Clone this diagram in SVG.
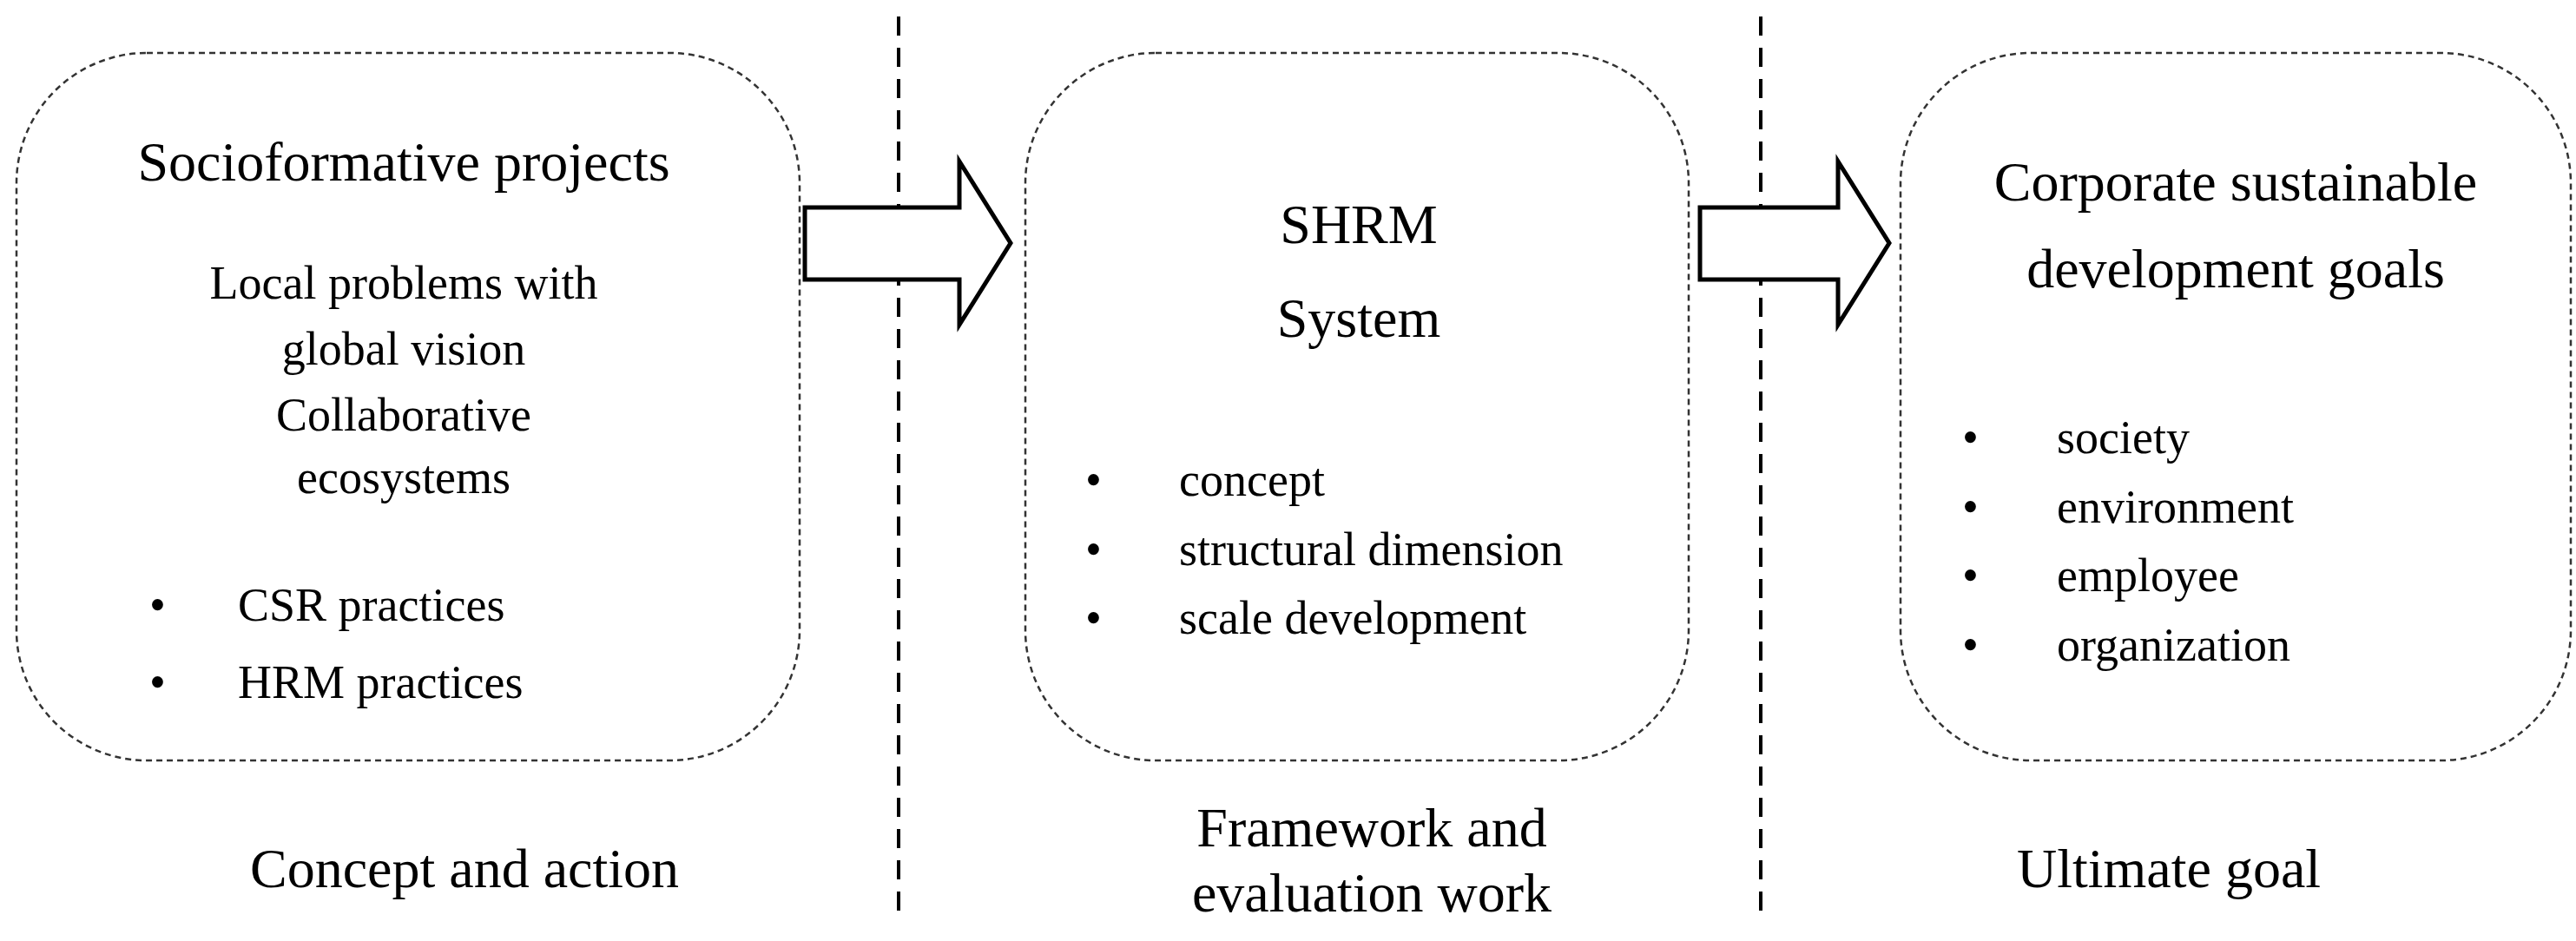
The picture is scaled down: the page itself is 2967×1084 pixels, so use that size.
<svg xmlns="http://www.w3.org/2000/svg" width="2967" height="1084" viewBox="0 0 2967 1084">
<style>
text{font-family:"Liberation Serif","Times New Roman",serif;fill:#000}
.box{fill:none;stroke:#333;stroke-width:2.5;stroke-dasharray:7 5}
.sep{stroke:#000;stroke-width:4;stroke-dasharray:22 14}
.arr{fill:#fff;stroke:#000;stroke-width:5}
.t{font-size:64px}
.m{font-size:54px}
.b{font-size:54px}
</style>
<rect width="2967" height="1084" fill="#fff"/>
<g id="separators">
<line class="sep" x1="1035" y1="19" x2="1035" y2="1055"/>
<line class="sep" x1="2028" y1="19" x2="2028" y2="1055"/>
</g>
<g id="connectors">
<path class="arr" d="M927 239 H1105 V186 L1164 280 L1105 374 V322 H927 Z"/>
<path class="arr" d="M1958 239 H2117 V186 L2176 280 L2117 374 V322 H1958 Z"/>
</g>
<g id="node1">
<rect class="box" x="19" y="61" width="902" height="815" rx="150"/>
<text class="t" x="465" y="208" text-anchor="middle">Socioformative projects</text>
<text class="m" x="465" y="344" text-anchor="middle">Local problems with</text>
<text class="m" x="465" y="420" text-anchor="middle">global vision</text>
<text class="m" x="465" y="496" text-anchor="middle">Collaborative</text>
<text class="m" x="465" y="568" text-anchor="middle">ecosystems</text>
<text class="b" x="172" y="715">•</text><text class="b" x="274" y="715">CSR practices</text>
<text class="b" x="172" y="804">•</text><text class="b" x="274" y="804">HRM practices</text>
</g>
<g id="node2">
<rect class="box" x="1181" y="61" width="764" height="815" rx="150"/>
<text class="t" x="1565" y="280" text-anchor="middle">SHRM</text>
<text class="t" x="1565" y="388" text-anchor="middle">System</text>
<text class="b" x="1250" y="571">•</text><text class="b" x="1358" y="571">concept</text>
<text class="b" x="1250" y="651">•</text><text class="b" x="1358" y="651">structural  dimension</text>
<text class="b" x="1250" y="730">•</text><text class="b" x="1358" y="730">scale  development</text>
</g>
<g id="node3">
<rect class="box" x="2189" y="61" width="772" height="815" rx="150"/>
<text class="t" x="2575" y="231" text-anchor="middle">Corporate sustainable</text>
<text class="t" x="2575" y="331" text-anchor="middle">development goals</text>
<text class="b" x="2260" y="522">•</text><text class="b" x="2369" y="522">society</text>
<text class="b" x="2260" y="602">•</text><text class="b" x="2369" y="602">environment</text>
<text class="b" x="2260" y="681">•</text><text class="b" x="2369" y="681">employee</text>
<text class="b" x="2260" y="761">•</text><text class="b" x="2369" y="761">organization</text>
</g>
<g id="labels">
<text class="t" x="535" y="1022" text-anchor="middle">Concept and action</text>
<text class="t" x="1580" y="975" text-anchor="middle">Framework and</text>
<text class="t" x="1580" y="1050" text-anchor="middle">evaluation work</text>
<text class="t" x="2498" y="1022" text-anchor="middle">Ultimate goal</text>
</g>
</svg>
